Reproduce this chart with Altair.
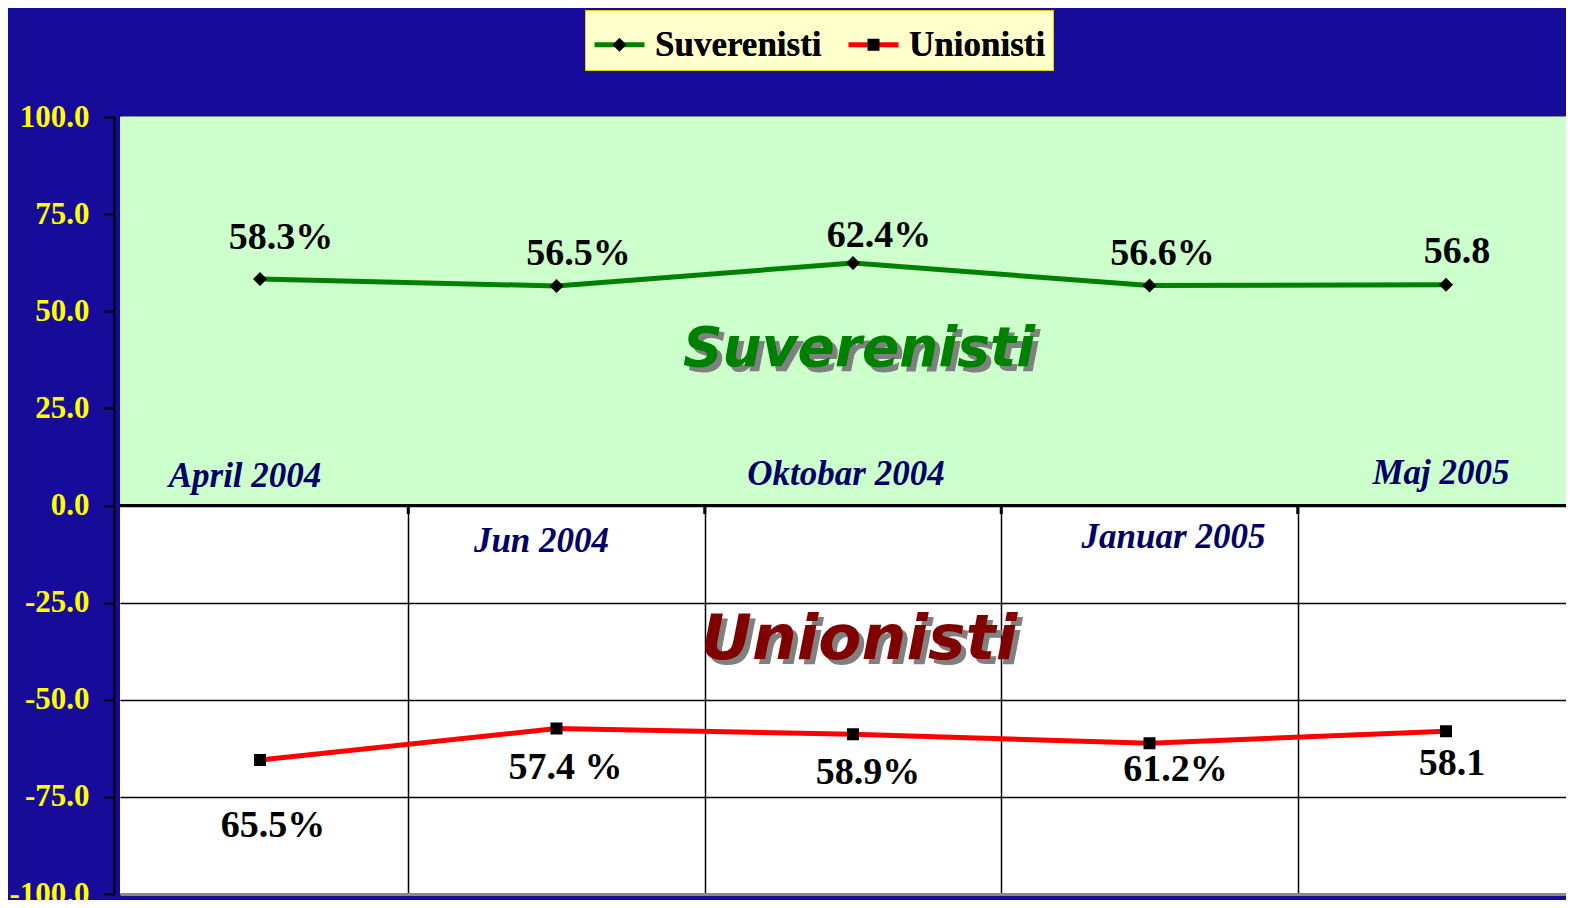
import altair as alt
import pandas as pd

# ---- data ----
categories = ["April 2004", "Jun 2004", "Oktobar 2004", "Januar 2005", "Maj 2005"]
series_names = ["Suverenisti", "Unionisti"]
suverenisti = [58.3, 56.5, 62.4, 56.6, 56.8]
unionisti = [-65.5, -57.4, -58.9, -61.2, -58.1]
suv_labels = ["58.3%", "56.5%", "62.4%", "56.6%", "56.8"]
uni_labels = ["65.5%", "57.4 %", "58.9%", "61.2%", "58.1"]
y_ticks = [-100, -75, -50, -25, 0, 25, 50, 75, 100]

# ---- styling / layout ----
STEP = 296.5
PLOT_W, PLOT_H = 1446, 777
X_MIN = -140.0 / STEP
X_MAX = X_MIN + PLOT_W / STEP
BG = "#170c9a"
GREEN, RED = "#008000", "#ff0000"
# marker paths carry an invisible zero-area span so legend layout matches the line legend
DIAMOND = "M-1,0L1,0M-0.28,0L0,-0.28L0.28,0L0,0.28Z"
SQUARE = "M-1,0L1,0M-0.24,-0.24L0.24,-0.24L0.24,0.24L-0.24,0.24Z"
SYM = 2500
MINUS = "\u2212"

# label nudges (pixels)
suv_nudge = [(21, -41), (22, -32), (26, -27), (13, -32), (11, -33)]
uni_nudge = [(13, 66), (9, 40), (15, 39), (26, 27), (6, 33)]
cat_nudge = [(-15, -19), (-15, 46), (-7, -21), (24, 42), (-5, -22)]

rows = []
for i, c in enumerate(categories):
    rows.append(dict(idx=i, cat=c, series="Suverenisti", series2="Suverenisti",
                     value=suverenisti[i], label=suv_labels[i]))
    rows.append(dict(idx=i, cat=c, series="Unionisti", series2="Unionisti",
                     value=unionisti[i], label=uni_labels[i]))
df = pd.DataFrame(rows)
cat_df = pd.DataFrame({"idx": list(range(len(categories))), "cat": categories})
bound_df = pd.DataFrame({"idx": [i + 0.5 for i in range(len(categories) - 1)]})

x_scale = alt.Scale(domain=[X_MIN, X_MAX], nice=False, zero=False)
y_scale = alt.Scale(domain=[-100, 100], nice=False, zero=False)

x_axis = alt.Axis(values=[i + 0.5 for i in range(len(categories) - 1)], labels=False,
                  ticks=False, domain=False, grid=True, gridColor="black",
                  gridWidth=1.5, title=None)
y_axis = alt.Axis(values=y_ticks, format=".1f", title=None, grid=True,
                  labelExpr=f"replace(datum.label, '{MINUS}', '-')",
                  gridColor=alt.condition("abs(datum.value) == 100",
                                          alt.value("#8a8a8a"), alt.value("black")),
                  gridWidth=alt.condition("abs(datum.value) == 100",
                                          alt.value(3), alt.value(1.5)),
                  domain=True, domainColor="black", domainWidth=2,
                  ticks=True, tickColor="black", tickWidth=2, tickSize=10,
                  labelColor="#ffff00", labelFont="Liberation Serif",
                  labelFontSize=31, labelFontWeight="bold", labelPadding=15,
                  offset=6)


def X(field="idx"):
    return alt.X(f"{field}:Q", scale=x_scale, axis=x_axis)


def Y(field="value"):
    return alt.Y(f"{field}:Q", scale=y_scale, axis=y_axis)


def Y0(v=0):
    return alt.Y(datum=v, scale=y_scale, axis=y_axis)


# green upper half
green_bg = alt.Chart(cat_df.head(1)).mark_rect(color="#ccffcc").encode(
    x=alt.value(0), x2=alt.value(PLOT_W), y=Y0(100), y2=alt.datum(0))

base_axes = alt.Chart(df).mark_point(opacity=0).encode(x=X(), y=Y())

zero_line = alt.Chart(cat_df.head(1)).mark_rule(color="black", strokeWidth=3).encode(
    x=alt.value(0), x2=alt.value(PLOT_W), y=Y0(0))

zero_ticks = alt.Chart(bound_df).mark_rule(color="black", strokeWidth=3).encode(
    x=X(), y=Y0(0), y2=alt.datum(-2.2))


def watermark(text, color, dy, size):
    d = pd.DataFrame({"idx": [2], "t": [text]})
    common = dict(font="DejaVu Sans", fontWeight="bold", fontStyle="italic",
                  fontSize=size, baseline="middle")
    shadow = alt.Chart(d).mark_text(color="#808080", dx=11, dy=dy + 5, **common).encode(
        x=X(), y=Y0(0), text="t:N")
    main = alt.Chart(d).mark_text(color=color, dx=6, dy=dy, **common).encode(
        x=X(), y=Y0(0), text="t:N")
    return [shadow, main]


wm = watermark("Suverenisti", GREEN, -157, 55) + watermark("Unionisti", "#800000", 134, 63)

legend_common = dict(orient="none", legendX=465, legendY=-107, direction="horizontal",
                     title=None, symbolSize=SYM, symbolStrokeWidth=5,
                     padding=7, labelOffset=8, columnPadding=16,
                     labelFont="Liberation Serif", labelFontSize=35,
                     labelFontWeight="bold", labelColor="black", labelLimit=400)

lines = alt.Chart(df).mark_line(strokeWidth=5).encode(
    x=X(), y=Y(),
    color=alt.Color("series:N",
                    scale=alt.Scale(domain=series_names, range=[GREEN, RED]),
                    legend=alt.Legend(symbolType="stroke", fillColor="#ffffcc",
                                      strokeColor="#e0d000", **legend_common)))

points = alt.Chart(df).mark_point(filled=True, size=SYM, color="black", opacity=1).encode(
    x=X(), y=Y(),
    shape=alt.Shape("series2:N",
                    scale=alt.Scale(domain=series_names, range=[DIAMOND, SQUARE]),
                    legend=alt.Legend(symbolFillColor="black",
                                      symbolStrokeColor="transparent", **legend_common)))

text_layers = []
for i in range(len(categories)):
    for s, nudge in (("Suverenisti", suv_nudge), ("Unionisti", uni_nudge)):
        dx, dy = nudge[i]
        text_layers.append(
            alt.Chart(df).transform_filter(
                f"datum.idx == {i} && datum.series == '{s}'"
            ).mark_text(font="Liberation Serif", fontWeight="bold", fontSize=38,
                        color="black", dx=dx, dy=dy, baseline="middle").encode(
                x=X(), y=Y(), text="label:N"))
    cdx, cdy = cat_nudge[i]
    text_layers.append(
        alt.Chart(cat_df).transform_filter(f"datum.idx == {i}").mark_text(
            font="Liberation Serif", fontWeight="bold", fontStyle="italic", fontSize=35,
            color="#000066", dx=cdx, dy=cdy, baseline="alphabetic").encode(
            x=X(), y=Y0(0), text="cat:N"))

chart = alt.layer(green_bg, base_axes, *wm, zero_line, zero_ticks, lines, points,
                  *text_layers).resolve_legend(
    color="independent", shape="independent").properties(
    width=PLOT_W, height=PLOT_H,
    autosize=alt.AutoSizeParams(type="none"),
    padding={"left": 112, "top": 109, "right": 0, "bottom": 6},
    background=BG,
).configure_view(fill="white", strokeWidth=0)

chart.save("out.html", embed_options={"renderer": "svg", "actions": False})
